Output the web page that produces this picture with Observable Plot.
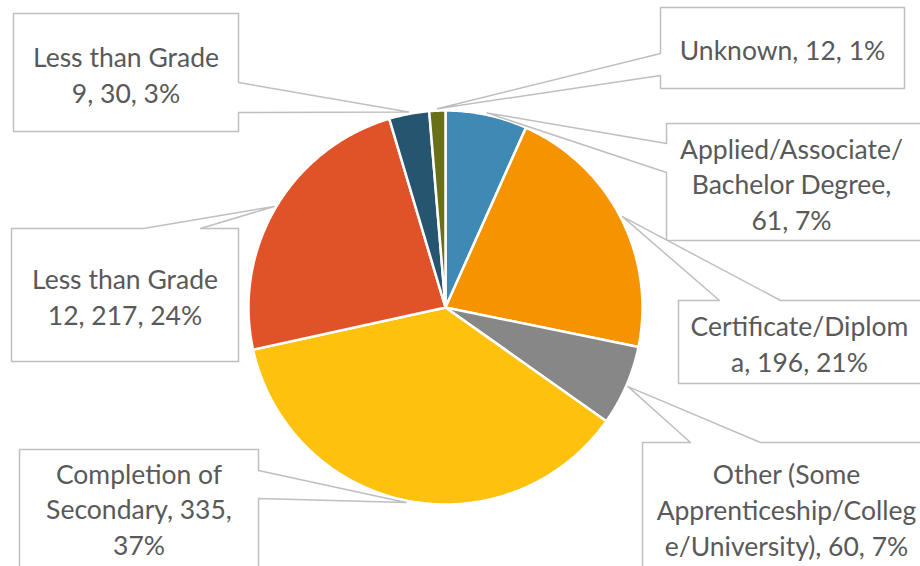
<!DOCTYPE html>
<html><head><meta charset="utf-8">
<script src="https://cdn.jsdelivr.net/npm/d3@7"></script>
<script src="https://cdn.jsdelivr.net/npm/@observablehq/plot@0.6"></script>
<style>body{margin:0;background:#fff;overflow:hidden}</style>
</head><body><div id="chart"></div>
<script>
// ---- data ----
const categories = [
  "Applied/Associate/Bachelor Degree",
  "Certificate/Diploma",
  "Other (Some Apprenticeship/College/University)",
  "Completion of Secondary",
  "Less than Grade 12",
  "Less than Grade 9",
  "Unknown"
];
const counts = [61, 196, 60, 335, 217, 30, 12];
const percents = ["7%", "21%", "7%", "37%", "24%", "3%", "1%"];
const labelLines = [
  "Applied/Associate/\nBachelor Degree,\n61, 7%",
  "Certificate/Diplom\na, 196, 21%",
  "Other (Some\nApprenticeship/Colleg\ne/University), 60, 7%",
  "Completion of\nSecondary, 335,\n37%",
  "Less than Grade\n12, 217, 24%",
  "Less than Grade\n9, 30, 3%",
  "Unknown, 12, 1%"
];
const colors = ["#3F89B5", "#F59300", "#878787", "#FDC10E", "#E05328", "#26556F", "#687119"];

// ---- layout ----
const W = 920, H = 566, CX = 445, CY = 307, R = 197;
const callouts = [
  {box: [666, 123, 935, 240], side: "left",  base: [143, 172], tx: 791, ty: 182.5},
  {box: [678, 300, 935, 383], side: "top",   base: [719, 780], tx: 799, ty: 342},
  {box: [642, 442, 935, 575], side: "top",   base: [690, 760], tx: 786, ty: 508},
  {box: [19, 449, 258, 575],  side: "right", base: [470, 498], tx: 138.5, ty: 507.5},
  {box: [11, 228, 238, 361],  side: "top",   base: [143, 200], tx: 124.5, ty: 295},
  {box: [13, 13, 238, 131],   side: "right", base: [82, 112],  tx: 125.5, ty: 73},
  {box: [660, 7, 904, 88],    side: "left",  base: [53, 75],   tx: 782, ty: 48.5}
];

const arcs = d3.pie().sort(null).value(d => d)(counts);

const slicePts = [];
arcs.forEach((a, i) => {
  const n = Math.max(4, Math.ceil((a.endAngle - a.startAngle) / 0.01));
  slicePts.push({x: CX, y: CY, k: i, c: colors[i]});
  for (let j = 0; j <= n; j++) {
    const t = a.startAngle + (a.endAngle - a.startAngle) * j / n;
    slicePts.push({x: CX + R * Math.sin(t), y: CY - R * Math.cos(t), k: i, c: colors[i]});
  }
  slicePts.push({x: CX, y: CY, k: i, c: colors[i]});
});

const calloutPts = [];
arcs.forEach((a, i) => {
  const cfg = callouts[i];
  const [x0, y0, x1, y1] = cfg.box;
  const [b1, b2] = cfg.base;
  const m = (a.startAngle + a.endAngle) / 2;
  const tip = [CX + (R + 2) * Math.sin(m), CY - (R + 2) * Math.cos(m)];
  let pts;
  if (cfg.side === "left") pts = [[x0, y0], [x1, y0], [x1, y1], [x0, y1], [x0, b2], tip, [x0, b1], [x0, y0]];
  else if (cfg.side === "right") pts = [[x0, y0], [x1, y0], [x1, b1], tip, [x1, b2], [x1, y1], [x0, y1], [x0, y0]];
  else pts = [[x0, y0], [b1, y0], tip, [b2, y0], [x1, y0], [x1, y1], [x0, y1], [x0, y0]];
  pts.forEach(p => calloutPts.push({x: p[0], y: p[1], k: i}));
});

const labels = categories.map((c, i) => ({t: labelLines[i], tx: callouts[i].tx, ty: callouts[i].ty}));

const chart = Plot.plot({
  width: W, height: H, margin: 0,
  x: {domain: [0, W], range: [0, W], axis: null},
  y: {domain: [0, H], range: [0, H], axis: null},
  color: {type: "identity"},
  style: {background: "#fff", overflow: "hidden"},
  marks: [
    Plot.line(slicePts, {x: "x", y: "y", z: "k", fill: "c", stroke: "white", strokeWidth: 2.5, strokeLinejoin: "round"}),
    Plot.line(calloutPts, {x: "x", y: "y", z: "k", fill: "white", stroke: "#BFBFBF", strokeWidth: 1.5}),
    Plot.text(labels, {x: "tx", y: "ty", text: "t", fontSize: 26.5, fontFamily: "Lato", fill: "#595959", lineAnchor: "middle", lineHeight: 1.35})
  ]
});
document.getElementById("chart").append(chart);
</script>
</body></html>
